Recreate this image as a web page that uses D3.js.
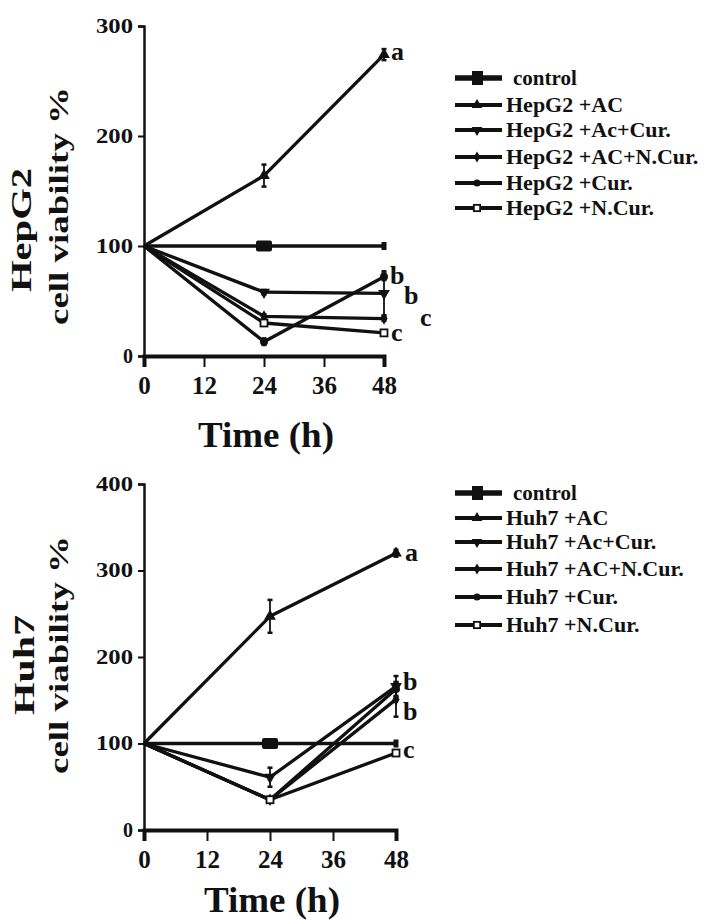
<!DOCTYPE html>
<html><head><meta charset="utf-8">
<script src="https://cdn.jsdelivr.net/npm/d3@7"></script>
<style>
html,body{margin:0;padding:0;background:#fff;}
svg{display:block;}
text{font-family:"Liberation Serif","Times New Roman",serif;font-weight:bold;fill:#111;}
</style></head>
<body>
<svg id="c" width="708" height="920"></svg>
<script>
// ---------- DATA ----------
const times = [0, 24, 48];
const xTickVals = [0, 12, 24, 36, 48];
const seriesKeys = ["control", "AC", "AcCur", "ACNCur", "Cur", "NCur"];
const markerTypes = ["bigsquare", "triUp", "triDown", "diamond", "circle", "openSquare"];

// HepG2 panel
const hepLabels = ["control", "HepG2 +AC", "HepG2 +Ac+Cur.", "HepG2 +AC+N.Cur.", "HepG2 +Cur.", "HepG2 +N.Cur."];
const hepControl = [100, 100, 100];
const hepAC      = [100, 164, 274];
const hepAcCur   = [100, 58, 57];
const hepACNCur  = [100, 36, 34];
const hepCur     = [100, 13, 72];
const hepNCur    = [100, 30, 21];
const hepControlErr = [0, 0, 0];
const hepACErr      = [0, 10, 5];
const hepAcCurErr   = [0, 2, 20];
const hepACNCurErr  = [0, 2, 2];
const hepCurErr     = [0, 3, 3];
const hepNCurErr    = [0, 2, 2];
const hepYTicks = [0, 100, 200, 300];
const hepLetters = ["a", "b", "b", "c", "c"];

// Huh7 panel
const huhLabels = ["control", "Huh7 +AC", "Huh7 +Ac+Cur.", "Huh7 +AC+N.Cur.", "Huh7 +Cur.", "Huh7 +N.Cur."];
const huhControl = [100, 100, 100];
const huhAC      = [100, 247, 320];
const huhAcCur   = [100, 61, 166];
const huhACNCur  = [100, 35, 151];
const huhCur     = [100, 35, 163];
const huhNCur    = [100, 35, 89];
const huhControlErr = [0, 0, 0];
const huhACErr      = [0, 19, 4];
const huhAcCurErr   = [0, 11, 12];
const huhACNCurErr  = [0, 3, 20];
const huhCurErr     = [0, 3, 8];
const huhNCurErr    = [0, 3, 3];
const huhYTicks = [0, 100, 200, 300, 400];
const huhLetters = ["a", "b", "b", "c"];

// ---------- DRAW ----------
const svg = d3.select("#c");
const INK = "#111";

function marker(g, type, x, y, s) {
  s = s || 1;
  if (type === "bigsquare") {
    g.append("rect").attr("x", x - 8*s).attr("y", y - 5.5*s).attr("width", 16*s).attr("height", 11*s)
      .attr("rx", 2).attr("fill", INK);
  } else if (type === "openSquare") {
    g.append("rect").attr("x", x - 3.5*s).attr("y", y - 3.5*s).attr("width", 7*s).attr("height", 7*s)
      .attr("fill", "#fff").attr("stroke", INK).attr("stroke-width", 1.8);
  } else {
    const sym = {triUp: d3.symbolTriangle, triDown: d3.symbolTriangle, diamond: d3.symbolDiamond, circle: d3.symbolCircle}[type];
    const size = {triUp: 60, triDown: 60, diamond: 45, circle: 50}[type] * s * s;
    g.append("path").attr("d", d3.symbol().type(sym).size(size)())
      .attr("transform", `translate(${x},${y})` + (type === "triDown" ? " rotate(180)" : ""))
      .attr("fill", INK);
  }
}

function panel(cfg) {
  const g = svg.append("g");
  const x = d3.scaleLinear().domain([0, 48]).range([cfg.x0, cfg.x1]);
  const y = d3.scaleLinear().domain([0, cfg.ymax]).range([cfg.yb, cfg.yt]);

  // y axis
  const ya = g.append("g").attr("transform", `translate(${cfg.x0},0)`)
    .call(d3.axisLeft(y).tickValues(cfg.yTicks).tickSize(6).tickPadding(5).tickFormat(d3.format("d")));
  ya.select(".domain").attr("stroke", INK).attr("stroke-width", 2.5);
  ya.selectAll(".tick line").attr("stroke", INK).attr("stroke-width", 2);
  ya.selectAll(".tick text").attr("font-size", 20).attr("fill", INK)
    .attr("font-family", '"Liberation Serif",serif').attr("font-weight", "bold")
    .each(function(d){ if (d !== 0) d3.select(this).attr("textLength", 37).attr("lengthAdjust", "spacingAndGlyphs"); });

  // x axis
  const xa = g.append("g").attr("transform", `translate(0,${cfg.yb})`)
    .call(d3.axisBottom(x).tickValues(xTickVals).tickSize(11).tickPadding(9).tickFormat(d3.format("d")));
  xa.select(".domain").attr("stroke", INK).attr("stroke-width", 4);
  xa.selectAll(".tick line").attr("stroke", INK).attr("stroke-width", 2);
  xa.selectAll(".tick text").attr("font-size", 25).attr("fill", INK)
    .attr("font-family", '"Liberation Serif",serif').attr("font-weight", "bold");

  // x title
  g.append("text").attr("x", (cfg.x0 + cfg.x1) / 2 + 2).attr("y", cfg.titleY)
    .attr("text-anchor", "middle").attr("font-size", 35)
    .attr("textLength", 136).attr("lengthAdjust", "spacingAndGlyphs").text("Time (h)");

  // y titles
  g.append("text").attr("transform", `translate(${cfg.t1x},${cfg.t1y}) rotate(-90)`)
    .attr("text-anchor", "middle").attr("font-size", 29)
    .attr("textLength", cfg.t1len).attr("lengthAdjust", "spacingAndGlyphs").text(cfg.cell);
  g.append("text").attr("transform", `translate(68,${cfg.t2y}) rotate(-90)`)
    .attr("text-anchor", "middle").attr("font-size", 27)
    .attr("textLength", 238).attr("lengthAdjust", "spacingAndGlyphs").text("cell viability %");

  // series
  const line = d3.line().x((d, i) => x(times[i])).y(d => y(d));
  cfg.series.forEach((s, k) => {
    g.append("path").datum(s.v).attr("d", line).attr("fill", "none")
      .attr("stroke", INK).attr("stroke-width", 3.3).attr("stroke-linejoin", "round");
    s.v.forEach((v, i) => {
      const e = s.e[i];
      if (e > 0) {
        const cx = x(times[i]);
        g.append("line").attr("x1", cx).attr("x2", cx).attr("y1", y(v - e)).attr("y2", y(v + e))
          .attr("stroke", INK).attr("stroke-width", 1.8);
        [v - e, v + e].forEach(w => g.append("line").attr("x1", cx - 2.5).attr("x2", cx + 2.5)
          .attr("y1", y(w)).attr("y2", y(w)).attr("stroke", INK).attr("stroke-width", 2.5));
      }
    });
    s.v.forEach((v, i) => {
      if (i === 0) return;
      if (markerTypes[k] === "bigsquare") {
        if (i === 1) marker(g, "bigsquare", x(times[i]), y(v));
        else g.append("rect").attr("x", x(times[i]) - 2.5).attr("y", y(v) - 4).attr("width", 5).attr("height", 8).attr("fill", INK);
      } else {
        marker(g, markerTypes[k], x(times[i]), y(v), 1);
      }
    });
  });

  // significance letters
  cfg.letters.forEach((L, i) => {
    g.append("text").attr("x", cfg.letterPos[i][0]).attr("y", cfg.letterPos[i][1])
      .attr("font-size", 26).text(L);
  });

  // legend
  const lg = g.append("g");
  cfg.labels.forEach((lab, k) => {
    const ry = cfg.legY[k];
    lg.append("line").attr("x1", 455).attr("x2", 502).attr("y1", ry).attr("y2", ry)
      .attr("stroke", INK).attr("stroke-width", k === 0 ? 5.5 : 4);
    if (k === 0) {
      lg.append("rect").attr("x", 472).attr("y", ry - 7).attr("width", 11).attr("height", 14).attr("fill", INK);
    } else {
      marker(lg, markerTypes[k], 477, ry, 0.9);
    }
    lg.append("text").attr("x", k === 0 ? 513 : 506).attr("y", ry + 7)
      .attr("font-size", k === 0 ? 21 : 22).text(lab);
  });
}

panel({
  x0: 144, x1: 384, yb: 356, yt: 26, ymax: 300, yTicks: hepYTicks, titleY: 447,
  cell: "HepG2", t1x: 31, t1y: 230, t1len: 124, t2y: 206,
  series: [
    {v: hepControl, e: hepControlErr}, {v: hepAC, e: hepACErr}, {v: hepAcCur, e: hepAcCurErr},
    {v: hepACNCur, e: hepACNCurErr}, {v: hepCur, e: hepCurErr}, {v: hepNCur, e: hepNCurErr}
  ],
  letters: hepLetters,
  letterPos: [[391, 60], [390, 284], [404, 304], [420, 326], [391, 341]],
  labels: hepLabels, legY: [78, 105, 130, 157, 183, 208]
});

panel({
  x0: 144, x1: 396, yb: 830, yt: 484, ymax: 400, yTicks: huhYTicks, titleY: 912,
  cell: "Huh7", t1x: 34, t1y: 665, t1len: 100, t2y: 655,
  series: [
    {v: huhControl, e: huhControlErr}, {v: huhAC, e: huhACErr}, {v: huhAcCur, e: huhAcCurErr},
    {v: huhACNCur, e: huhACNCurErr}, {v: huhCur, e: huhCurErr}, {v: huhNCur, e: huhNCurErr}
  ],
  letters: huhLetters,
  letterPos: [[405, 561], [403, 690], [403, 720], [403, 758]],
  labels: huhLabels, legY: [493, 518, 542, 569, 597, 625]
});
</script>
</body></html>
